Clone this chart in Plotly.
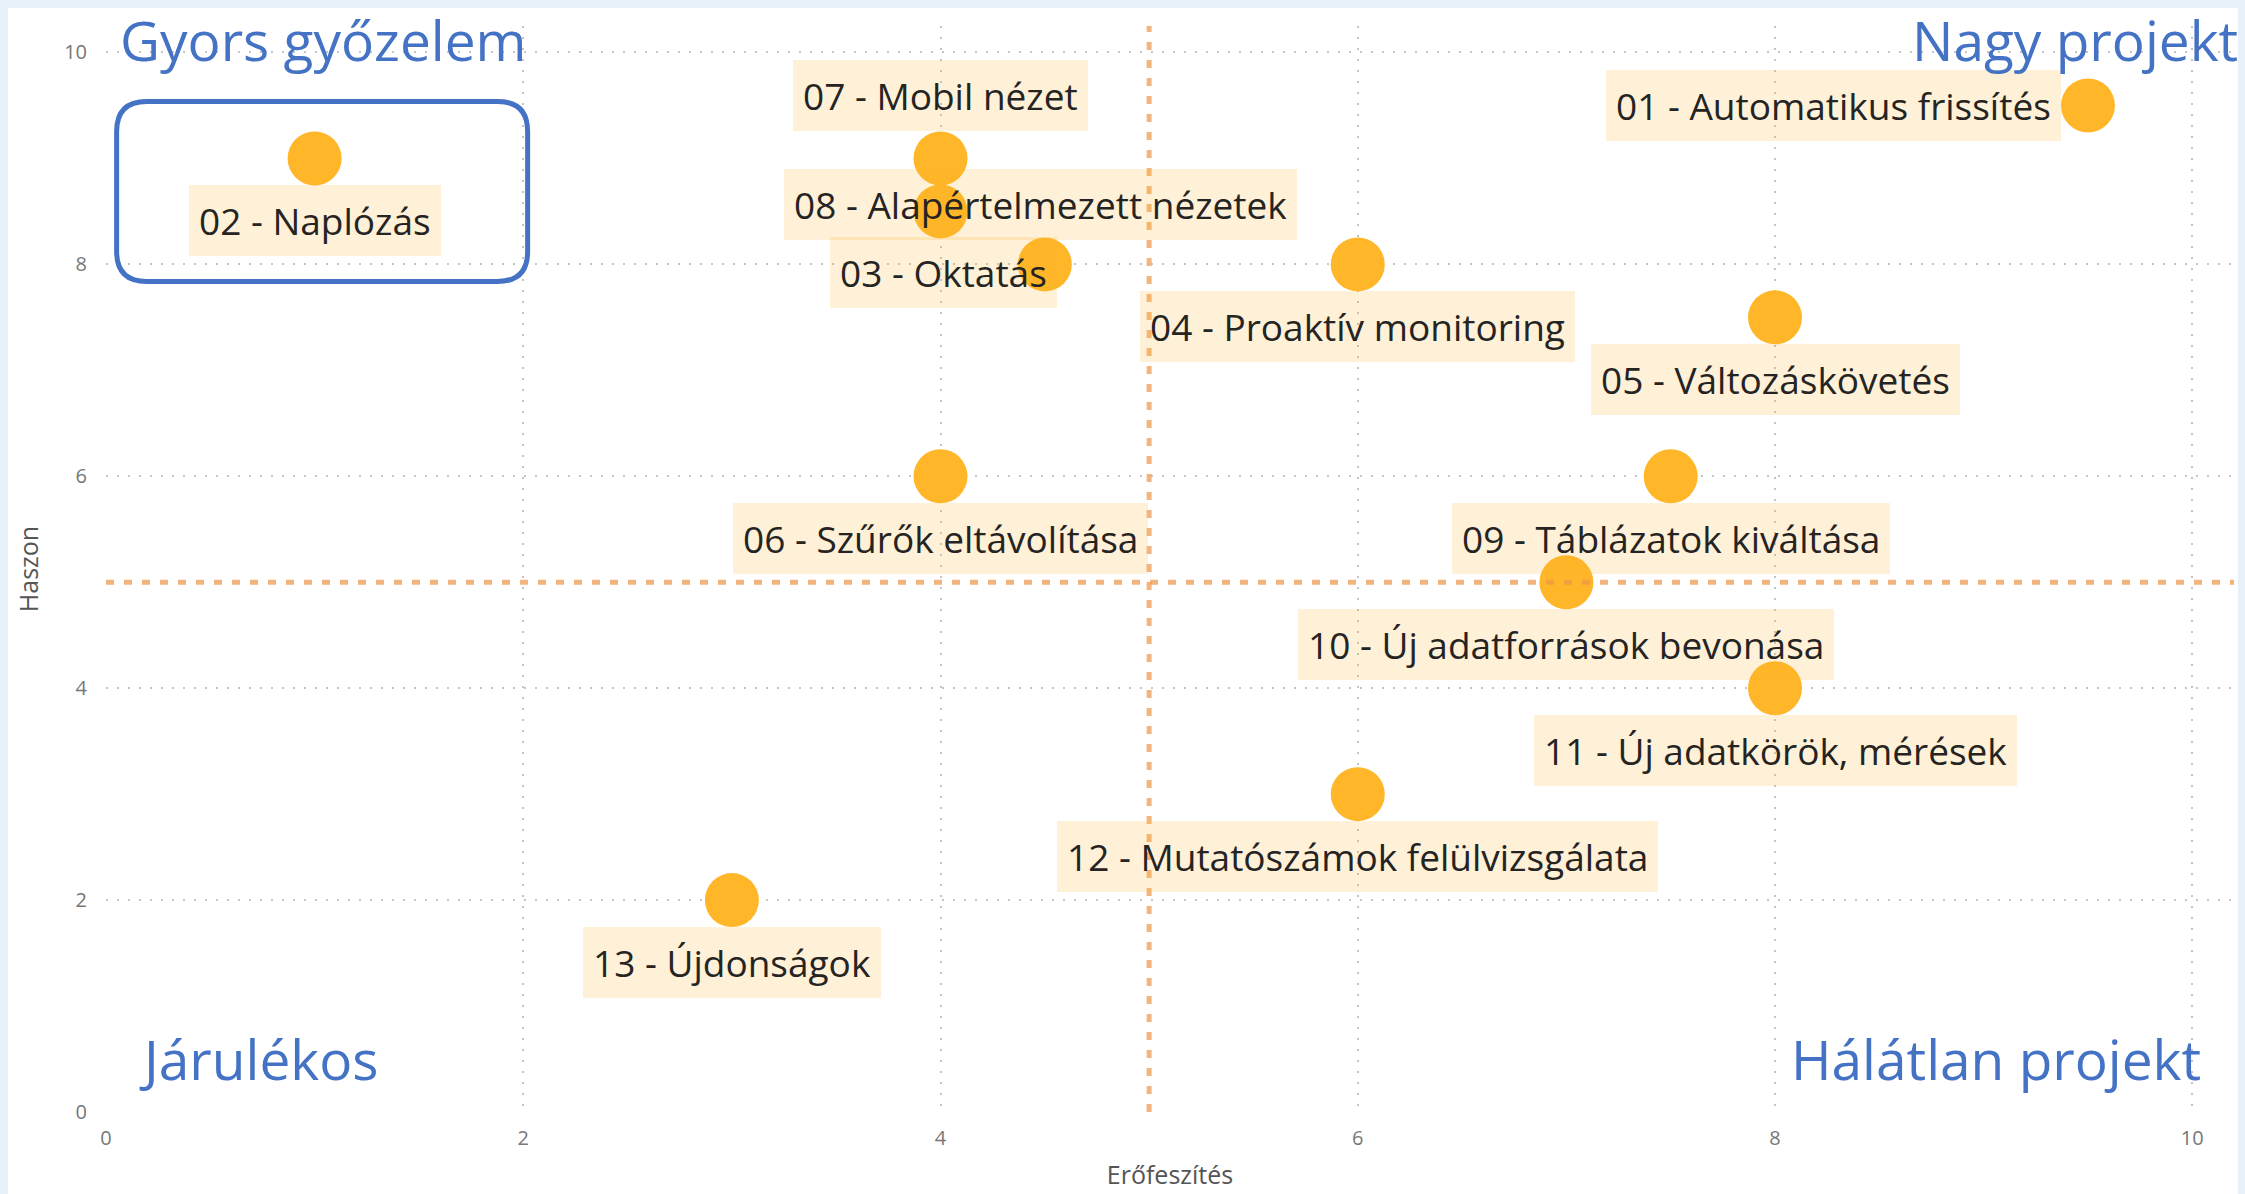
import plotly.graph_objects as go

# --- data -------------------------------------------------------------
names = [
    "01 - Automatikus frissítés",
    "02 - Naplózás",
    "03 - Oktatás",
    "04 - Proaktív monitoring",
    "05 - Változáskövetés",
    "06 - Szűrők eltávolítása",
    "07 - Mobil nézet",
    "08 - Alapértelmezett nézetek",
    "09 - Táblázatok kiváltása",
    "10 - Új adatforrások bevonása",
    "11 - Új adatkörök, mérések",
    "12 - Mutatószámok felülvizsgálata",
    "13 - Újdonságok",
]
effort = [9.5, 1, 4.5, 6, 8, 4, 4, 4, 7.5, 7, 8, 6, 3]
benefit = [9.5, 9, 8, 8, 7.5, 6, 9, 8.5, 6, 5, 4, 3, 2]

effort_split = 5
benefit_split = 5

x_ticks = [0, 2, 4, 6, 8, 10]
y_ticks = [0, 2, 4, 6, 8, 10]

quadrant_titles = ["Gyors győzelem", "Nagy projekt", "Járulékos", "Hálátlan projekt"]
highlighted = 1  # index of "02 - Naplózás"

# --- styling ------------------------------------------------------------
W, H = 2245, 1194
M_L, M_R, M_T, M_B = 106, 11, 26, 82
PW, PH = W - M_L - M_R, H - M_T - M_B

FONT = "Open Sans, Segoe UI, sans-serif"
DOT = "#FFB628"
LABEL_BG = "rgba(255,182,40,0.19)"
TEXT = "#252423"
BLUE = "#4472C4"
GRID = "#C4C4C4"
FRAME = "#E8F0FA"
R = 27  # marker radius in px

# label placement: (xanchor, xshift, yanchor, yshift)
BELOW = ("center", 0, "top", -R)
placement = [
    ("right", -R, "middle", 0),
    BELOW,
    ("right", 12, "middle", -8),
    BELOW,
    BELOW,
    BELOW,
    ("center", 0, "bottom", R),
    ("left", -157, "middle", 7),
    BELOW,
    BELOW,
    BELOW,
    BELOW,
    BELOW,
]

fig = go.Figure()
fig.add_trace(go.Scatter(
    x=effort, y=benefit, mode="markers",
    marker=dict(size=2 * R, color=DOT, line=dict(width=0)),
    text=names, hoverinfo="text", showlegend=False,
))

annotations = []
for name, xv, yv, (xa, xs, ya, ys) in zip(names, effort, benefit, placement):
    annotations.append(dict(
        x=xv, y=yv, xref="x", yref="y", text=name, showarrow=False,
        xanchor=xa, yanchor=ya, xshift=xs, yshift=ys,
        bgcolor=LABEL_BG, borderpad=10, borderwidth=0,
        font=dict(family=FONT, size=37, color=TEXT),
    ))


def px_x(p):
    return (p - M_L) / PW


def px_y(p):
    return (H - M_B - p) / PH


qfont = dict(family=FONT, size=55, color=BLUE)
annotations += [
    dict(text=quadrant_titles[0], xref="paper", yref="paper", x=px_x(118), y=px_y(40),
         xanchor="left", yanchor="middle", showarrow=False, font=qfont),
    dict(text=quadrant_titles[1], xref="paper", yref="paper", x=px_x(2240), y=px_y(40),
         xanchor="right", yanchor="middle", showarrow=False, font=qfont),
    dict(text=quadrant_titles[2], xref="paper", yref="paper", x=px_x(137), y=px_y(1058),
         xanchor="left", yanchor="middle", showarrow=False, font=qfont),
    dict(text=quadrant_titles[3], xref="paper", yref="paper", x=px_x(2203), y=px_y(1058),
         xanchor="right", yanchor="middle", showarrow=False, font=qfont),
]


def rounded_rect(x0, x1, y0, y1, r):
    return (f"M {x0 + r},{y0} L {x1 - r},{y0} Q {x1},{y0} {x1},{y0 + r} "
            f"L {x1},{y1 - r} Q {x1},{y1} {x1 - r},{y1} "
            f"L {x0 + r},{y1} Q {x0},{y1} {x0},{y1 - r} "
            f"L {x0},{y0 + r} Q {x0},{y0} {x0 + r},{y0} Z")


ref_line = dict(color="rgba(238,150,70,0.7)", width=5, dash="8px,10px")
shapes = [
    # light frame around the card
    dict(type="rect", xref="paper", yref="paper", layer="below", line_width=0, fillcolor=FRAME,
         x0=px_x(0), x1=px_x(W), y0=px_y(8), y1=px_y(0)),
    dict(type="rect", xref="paper", yref="paper", layer="below", line_width=0, fillcolor=FRAME,
         x0=px_x(0), x1=px_x(8), y0=px_y(H), y1=px_y(0)),
    dict(type="rect", xref="paper", yref="paper", layer="below", line_width=0, fillcolor=FRAME,
         x0=px_x(2238), x1=px_x(W), y0=px_y(H), y1=px_y(0)),
    # quadrant split lines
    dict(type="line", xref="x", yref="paper", x0=effort_split, x1=effort_split, y0=0, y1=1,
         line=ref_line, layer="above"),
    dict(type="line", xref="paper", yref="y", x0=0, x1=1, y0=benefit_split, y1=benefit_split,
         line=ref_line, layer="above"),
    # highlight around the quick win
    dict(type="path", xref="x", yref="y", xsizemode="pixel", ysizemode="pixel",
         xanchor=effort[highlighted], yanchor=benefit[highlighted],
         path=rounded_rect(-198, 213, -123, 57, 30),
         line=dict(color=BLUE, width=5), fillcolor="rgba(0,0,0,0)", layer="above"),
]

axis_common = dict(
    showgrid=True, gridcolor=GRID, gridwidth=2, griddash="2px,9px",
    zeroline=False, showline=False,
    tickfont=dict(family=FONT, size=20, color="#777777"),
    ticks="outside", tickcolor="rgba(0,0,0,0)",
)

fig.update_layout(
    width=W, height=H,
    margin=dict(l=M_L, r=M_R, t=M_T, b=M_B, autoexpand=False),
    paper_bgcolor="white", plot_bgcolor="white",
    xaxis=dict(range=[0, 10.2], tickvals=x_ticks, ticklen=8,
               title=dict(text="Erőfeszítés", standoff=16,
                          font=dict(family=FONT, size=25, color="#555555")),
               **axis_common),
    yaxis=dict(range=[0, 10.25], tickvals=y_ticks, ticklen=14,
               title=dict(text="Haszon", standoff=18,
                          font=dict(family=FONT, size=25, color="#555555")),
               **axis_common),
    annotations=annotations,
    shapes=shapes,
)

fig.write_html("out.html")
